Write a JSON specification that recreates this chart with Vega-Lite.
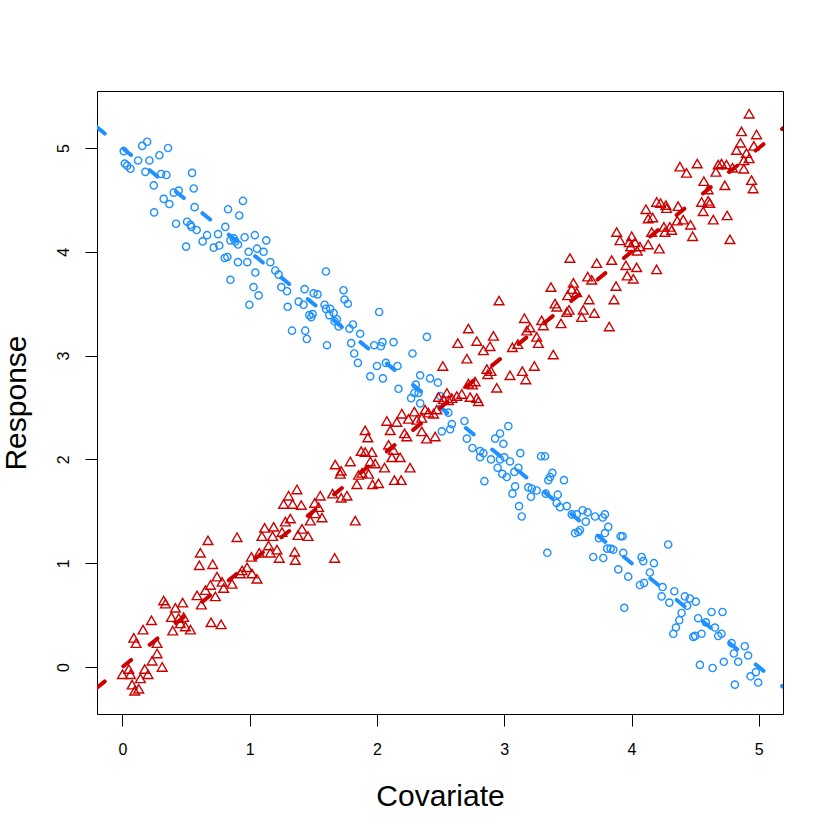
{
  "$schema": "https://vega.github.io/schema/vega-lite/v6.json",
  "width": 686,
  "height": 623,
  "autosize": "none",
  "padding": {"left": 97, "top": 91, "right": 47, "bottom": 116},
  "background": "white",
  "config": {
    "view": {"stroke": "black", "strokeWidth": 1},
    "font": "Liberation Sans"
  },
  "datasets": {
    "circles": [
      {"x":0.01,"y":4.97},{"x":0.155,"y":5.02},{"x":0.194,"y":5.06},{"x":0.123,"y":4.88},{"x":0.212,"y":4.88},
      {"x":0.29,"y":4.93},{"x":0.358,"y":5.0},{"x":0.018,"y":4.85},{"x":0.037,"y":4.83},{"x":0.063,"y":4.8},
      {"x":0.18,"y":4.77},{"x":0.304,"y":4.75},{"x":0.345,"y":4.74},{"x":0.246,"y":4.64},{"x":0.547,"y":4.76},
      {"x":0.56,"y":4.61},{"x":0.324,"y":4.51},{"x":0.403,"y":4.57},{"x":0.442,"y":4.59},{"x":0.369,"y":4.46},
      {"x":0.567,"y":4.43},{"x":0.249,"y":4.38},{"x":0.421,"y":4.27},{"x":0.508,"y":4.29},{"x":0.534,"y":4.26},
      {"x":0.542,"y":4.24},{"x":0.583,"y":4.21},{"x":0.665,"y":4.16},{"x":0.63,"y":4.1},{"x":0.751,"y":4.17},
      {"x":0.808,"y":4.24},{"x":0.83,"y":4.41},{"x":0.918,"y":4.35},{"x":0.947,"y":4.49},{"x":0.5,"y":4.05},
      {"x":0.717,"y":4.04},{"x":0.761,"y":4.06},{"x":0.803,"y":3.94},{"x":0.824,"y":3.95},{"x":0.848,"y":4.11},
      {"x":0.874,"y":4.13},{"x":0.887,"y":4.1},{"x":0.908,"y":4.07},{"x":0.96,"y":4.14},{"x":1.04,"y":4.16},
      {"x":0.991,"y":4.0},{"x":1.057,"y":4.03},{"x":0.908,"y":3.9},{"x":0.981,"y":3.9},{"x":1.044,"y":3.8},
      {"x":0.848,"y":3.73},{"x":1.03,"y":3.66},{"x":0.997,"y":3.49},{"x":1.07,"y":3.58},
      {"x":1.13,"y":4.11},{"x":1.109,"y":4.0},{"x":1.162,"y":3.9},{"x":1.201,"y":3.82},{"x":1.227,"y":3.78},
      {"x":1.248,"y":3.66},{"x":1.293,"y":3.62},{"x":1.298,"y":3.47},{"x":1.384,"y":3.52},{"x":1.423,"y":3.49},
      {"x":1.431,"y":3.64},{"x":1.502,"y":3.6},{"x":1.533,"y":3.59},{"x":1.599,"y":3.81},{"x":1.332,"y":3.24},
      {"x":1.436,"y":3.24},{"x":1.449,"y":3.16},{"x":1.468,"y":3.39},{"x":1.494,"y":3.4},{"x":1.483,"y":3.37},
      {"x":1.588,"y":3.49},{"x":1.599,"y":3.45},{"x":1.633,"y":3.45},{"x":1.625,"y":3.39},{"x":1.659,"y":3.41},
      {"x":1.685,"y":3.35},{"x":1.667,"y":3.33},{"x":1.698,"y":3.28},{"x":1.607,"y":3.1},{"x":1.737,"y":3.63},
      {"x":1.745,"y":3.54},{"x":1.771,"y":3.5},{"x":1.811,"y":3.3},{"x":1.784,"y":3.26},{"x":1.868,"y":3.21},
      {"x":1.797,"y":3.12},{"x":1.821,"y":3.02},{"x":1.85,"y":2.93},{"x":2.017,"y":3.42},{"x":1.978,"y":3.1},
      {"x":2.043,"y":3.13},{"x":2.031,"y":3.09},{"x":2.13,"y":3.13},{"x":2.0,"y":2.9},{"x":2.07,"y":2.93},
      {"x":1.947,"y":2.8},{"x":2.046,"y":2.78},{"x":2.161,"y":2.9},{"x":2.279,"y":3.02},{"x":2.169,"y":2.68},
      {"x":2.305,"y":2.72},{"x":2.268,"y":2.59},{"x":2.294,"y":2.64},{"x":2.326,"y":2.64},{"x":2.339,"y":2.81},
      {"x":2.34,"y":2.54},
      {"x":2.392,"y":3.18},{"x":2.417,"y":2.78},{"x":2.478,"y":2.74},{"x":2.496,"y":2.61},{"x":2.561,"y":2.45},
      {"x":2.588,"y":2.34},{"x":2.575,"y":2.29},{"x":2.687,"y":2.37},{"x":2.509,"y":2.27},{"x":2.706,"y":2.2},
      {"x":2.928,"y":2.2},{"x":2.967,"y":2.25},{"x":3.032,"y":2.32},
      {"x":2.993,"y":2.15},{"x":2.75,"y":2.11},{"x":2.81,"y":2.08},{"x":2.836,"y":2.06},{"x":2.81,"y":2.02},
      {"x":2.896,"y":2.0},{"x":2.967,"y":2.0},{"x":3.001,"y":2.02},{"x":3.045,"y":1.98},{"x":2.948,"y":1.92},
      {"x":2.985,"y":1.86},{"x":3.02,"y":1.83},{"x":3.079,"y":1.88},{"x":3.111,"y":1.92},{"x":3.126,"y":2.06},
      {"x":2.844,"y":1.79},{"x":3.085,"y":1.74},{"x":3.064,"y":1.67},{"x":3.116,"y":1.55},{"x":3.137,"y":1.45},
      {"x":3.21,"y":1.64},{"x":3.189,"y":1.73},{"x":3.216,"y":1.72},{"x":3.255,"y":1.7},{"x":3.289,"y":2.03},
      {"x":3.32,"y":2.03},{"x":3.326,"y":1.67},{"x":3.346,"y":1.8},{"x":3.36,"y":1.83},{"x":3.378,"y":1.87},
      {"x":3.469,"y":1.8},{"x":3.42,"y":1.66},{"x":3.412,"y":1.58},{"x":3.438,"y":1.54},{"x":3.491,"y":1.55},
      {"x":3.53,"y":1.47},{"x":3.569,"y":1.47},{"x":3.616,"y":1.51},{"x":3.655,"y":1.49},{"x":3.713,"y":1.45},
      {"x":3.64,"y":1.4},{"x":3.595,"y":1.32},{"x":3.556,"y":1.29},{"x":3.582,"y":1.3},{"x":3.744,"y":1.24},
      {"x":3.699,"y":1.06},{"x":3.338,"y":1.1},
      {"x":3.791,"y":1.47},{"x":3.773,"y":1.44},{"x":3.817,"y":1.35},{"x":3.791,"y":1.29},{"x":3.914,"y":1.26},
      {"x":3.93,"y":1.26},{"x":3.809,"y":1.14},{"x":3.836,"y":1.14},{"x":3.857,"y":1.13},{"x":3.935,"y":1.1},
      {"x":3.778,"y":1.05},{"x":3.896,"y":0.94},{"x":3.974,"y":0.87},{"x":4.079,"y":1.06},{"x":4.092,"y":1.02},
      {"x":4.176,"y":1.0},{"x":4.144,"y":0.91},{"x":4.098,"y":0.81},{"x":4.066,"y":0.79},{"x":4.288,"y":1.18},
      {"x":3.943,"y":0.57},{"x":4.244,"y":0.77},{"x":4.236,"y":0.68},{"x":4.297,"y":0.62},{"x":4.336,"y":0.73},
      {"x":4.419,"y":0.68},{"x":4.458,"y":0.66},{"x":4.505,"y":0.63},{"x":4.437,"y":0.59},{"x":4.393,"y":0.52},
      {"x":4.375,"y":0.45},{"x":4.349,"y":0.38},{"x":4.328,"y":0.32},{"x":4.523,"y":0.47},{"x":4.584,"y":0.43},
      {"x":4.629,"y":0.53},{"x":4.715,"y":0.53},{"x":4.655,"y":0.38},{"x":4.681,"y":0.3},{"x":4.707,"y":0.32},
      {"x":4.55,"y":0.32},{"x":4.485,"y":0.29},{"x":4.5,"y":0.3},{"x":4.786,"y":0.23},{"x":4.804,"y":0.13},
      {"x":4.838,"y":0.05},{"x":4.89,"y":0.2},{"x":4.916,"y":0.11},{"x":4.725,"y":0.05},{"x":4.637,"y":-0.01},
      {"x":4.537,"y":0.02},{"x":4.935,"y":-0.09},{"x":4.977,"y":-0.05},{"x":4.995,"y":-0.15},{"x":4.812,"y":-0.17}
    ],
    "triangles": [
      {"x":0.672,"y":1.22},{"x":0.9,"y":1.25},{"x":0.612,"y":1.1},{"x":0.604,"y":0.98},{"x":0.709,"y":0.99},
      {"x":0.743,"y":0.87},{"x":0.691,"y":0.79},{"x":0.783,"y":0.82},{"x":0.861,"y":0.8},{"x":0.94,"y":0.93},
      {"x":0.979,"y":0.96},{"x":1.013,"y":1.06},{"x":0.926,"y":0.9},{"x":1.018,"y":0.9},{"x":1.057,"y":0.85},
      {"x":0.586,"y":0.69},{"x":0.652,"y":0.74},{"x":0.73,"y":0.68},{"x":0.795,"y":0.76},{"x":0.62,"y":0.6},
      {"x":0.324,"y":0.64},{"x":0.338,"y":0.61},{"x":0.473,"y":0.62},{"x":0.416,"y":0.57},{"x":0.385,"y":0.48},
      {"x":0.442,"y":0.47},{"x":0.481,"y":0.48},{"x":0.455,"y":0.42},{"x":0.495,"y":0.39},{"x":0.534,"y":0.36},
      {"x":0.395,"y":0.35},{"x":0.228,"y":0.45},{"x":0.162,"y":0.36},{"x":0.089,"y":0.28},{"x":0.107,"y":0.23},
      {"x":0.272,"y":0.23},{"x":0.696,"y":0.43},{"x":0.775,"y":0.41},{"x":0.272,"y":0.13},{"x":0.233,"y":0.06},
      {"x":0.312,"y":0.0},{"x":0.175,"y":-0.02},{"x":0.201,"y":-0.07},{"x":0.05,"y":-0.02},{"x":0.0,"y":-0.07},
      {"x":0.063,"y":-0.07},{"x":0.141,"y":-0.11},{"x":0.076,"y":-0.17},{"x":0.096,"y":-0.23},{"x":0.128,"y":-0.21},
      {"x":2.077,"y":2.37},{"x":2.195,"y":2.44},{"x":2.156,"y":2.36},{"x":2.247,"y":2.39},{"x":2.294,"y":2.46},
      {"x":2.313,"y":2.38},{"x":2.104,"y":2.28},{"x":2.216,"y":2.25},{"x":2.234,"y":2.22},{"x":1.907,"y":2.28},
      {"x":1.928,"y":2.21},{"x":2.091,"y":2.14},{"x":2.13,"y":2.09},{"x":2.117,"y":2.02},{"x":2.182,"y":2.02},
      {"x":2.26,"y":1.92},{"x":2.059,"y":1.92},{"x":1.876,"y":2.08},{"x":1.907,"y":2.07},{"x":1.96,"y":2.07},
      {"x":1.947,"y":1.98},{"x":1.986,"y":1.96},{"x":1.79,"y":1.98},{"x":1.672,"y":1.95},{"x":1.719,"y":1.89},
      {"x":1.711,"y":1.86},{"x":1.855,"y":1.85},{"x":1.882,"y":1.87},{"x":1.934,"y":1.86},{"x":1.842,"y":1.76},
      {"x":1.965,"y":1.76},{"x":2.012,"y":1.77},{"x":2.137,"y":1.8},{"x":2.19,"y":1.8},{"x":1.371,"y":1.71},
      {"x":1.305,"y":1.65},{"x":1.266,"y":1.57},{"x":1.337,"y":1.57},{"x":1.405,"y":1.56},{"x":1.554,"y":1.65},
      {"x":1.651,"y":1.67},{"x":1.764,"y":1.65},{"x":1.719,"y":1.63},{"x":1.51,"y":1.58},{"x":1.541,"y":1.54},
      {"x":1.515,"y":1.48},{"x":1.568,"y":1.44},{"x":1.476,"y":1.41},{"x":1.829,"y":1.41},{"x":1.319,"y":1.43},
      {"x":1.28,"y":1.4},{"x":1.411,"y":1.33},{"x":1.379,"y":1.27},{"x":1.458,"y":1.26},{"x":1.254,"y":1.3},
      {"x":1.188,"y":1.35},{"x":1.117,"y":1.34},{"x":1.096,"y":1.26},{"x":1.18,"y":1.26},{"x":1.148,"y":1.17},
      {"x":1.214,"y":1.13},{"x":1.075,"y":1.1},{"x":1.162,"y":1.1},{"x":1.232,"y":1.05},{"x":1.353,"y":1.11},
      {"x":1.358,"y":1.03},{"x":1.667,"y":1.05},
      {"x":3.516,"y":3.94},{"x":3.726,"y":3.89},{"x":3.367,"y":3.66},{"x":3.543,"y":3.7},{"x":3.53,"y":3.64},
      {"x":3.655,"y":3.76},{"x":3.687,"y":3.73},{"x":3.498,"y":3.58},{"x":3.569,"y":3.61},{"x":3.666,"y":3.54},
      {"x":3.621,"y":3.44},{"x":3.608,"y":3.37},{"x":3.707,"y":3.41},{"x":3.399,"y":3.5},{"x":3.413,"y":3.47},
      {"x":3.491,"y":3.42},{"x":3.509,"y":3.44},{"x":3.446,"y":3.31},{"x":2.959,"y":3.53},{"x":3.158,"y":3.36},
      {"x":3.294,"y":3.34},{"x":3.307,"y":3.29},{"x":3.203,"y":3.27},{"x":3.177,"y":3.24},{"x":2.718,"y":3.26},
      {"x":2.915,"y":3.19},{"x":2.784,"y":3.14},{"x":2.635,"y":3.12},{"x":2.888,"y":3.09},{"x":2.836,"y":3.05},
      {"x":3.106,"y":3.11},{"x":3.064,"y":3.08},{"x":3.255,"y":3.18},{"x":3.268,"y":3.12},{"x":3.385,"y":3.01},
      {"x":2.706,"y":2.97},{"x":2.517,"y":2.9},{"x":3.236,"y":2.9},{"x":3.142,"y":2.85},{"x":3.169,"y":2.77},
      {"x":3.045,"y":2.81},{"x":2.941,"y":2.69},{"x":2.863,"y":2.87},{"x":2.896,"y":2.85},{"x":2.87,"y":2.82},
      {"x":2.771,"y":2.75},{"x":2.75,"y":2.72},{"x":2.718,"y":2.73},{"x":2.784,"y":2.59},{"x":2.797,"y":2.56},
      {"x":2.732,"y":2.6},{"x":2.666,"y":2.63},{"x":2.627,"y":2.61},{"x":2.588,"y":2.59},{"x":2.562,"y":2.57},
      {"x":2.549,"y":2.64},{"x":2.522,"y":2.58},{"x":2.483,"y":2.6},{"x":2.47,"y":2.48},{"x":2.444,"y":2.44},
      {"x":2.404,"y":2.45},{"x":2.378,"y":2.48},{"x":2.352,"y":2.4},{"x":2.352,"y":2.27},{"x":2.39,"y":2.2},
      {"x":2.457,"y":2.22},
      {"x":4.924,"y":5.33},{"x":4.864,"y":5.16},{"x":4.982,"y":5.13},{"x":4.856,"y":5.05},{"x":4.825,"y":4.98},
      {"x":4.961,"y":5.02},{"x":4.903,"y":4.95},{"x":4.882,"y":4.88},{"x":4.924,"y":4.9},{"x":4.882,"y":4.8},
      {"x":4.943,"y":4.69},{"x":4.955,"y":4.61},{"x":4.38,"y":4.82},{"x":4.432,"y":4.76},{"x":4.516,"y":4.85},
      {"x":4.681,"y":4.84},{"x":4.663,"y":4.77},{"x":4.707,"y":4.85},{"x":4.746,"y":4.84},{"x":4.793,"y":4.81},
      {"x":4.568,"y":4.68},{"x":4.602,"y":4.6},{"x":4.733,"y":4.64},{"x":4.55,"y":4.48},{"x":4.602,"y":4.49},
      {"x":4.615,"y":4.47},{"x":4.563,"y":4.39},{"x":4.642,"y":4.31},{"x":4.751,"y":4.35},{"x":4.773,"y":4.12},
      {"x":4.197,"y":4.48},{"x":4.228,"y":4.47},{"x":4.27,"y":4.45},{"x":4.275,"y":4.42},{"x":4.366,"y":4.44},
      {"x":4.113,"y":4.41},{"x":4.166,"y":4.33},{"x":4.131,"y":4.32},{"x":4.406,"y":4.31},{"x":4.464,"y":4.26},
      {"x":4.48,"y":4.15},{"x":4.359,"y":4.3},{"x":4.301,"y":4.24},{"x":4.315,"y":4.21},{"x":4.262,"y":4.19},
      {"x":4.254,"y":4.24},{"x":4.158,"y":4.19},{"x":3.883,"y":4.19},{"x":3.909,"y":4.11},{"x":4.001,"y":4.15},
      {"x":3.982,"y":4.09},{"x":4.027,"y":4.09},{"x":3.993,"y":4.05},{"x":4.045,"y":4.01},{"x":4.131,"y":4.07},
      {"x":4.066,"y":4.05},{"x":4.218,"y":4.03},{"x":3.844,"y":3.92},{"x":3.956,"y":3.87},{"x":4.04,"y":3.85},
      {"x":3.966,"y":3.77},{"x":4.014,"y":3.74},{"x":4.197,"y":3.83},{"x":3.878,"y":3.67},{"x":3.862,"y":3.54},
      {"x":3.825,"y":3.28}
    ],
    "blueLine": [{"x":-0.2,"y":5.2},{"x":5.2,"y":-0.2}],
    "redLine": [{"x":-0.2,"y":-0.2},{"x":5.2,"y":5.2}]
  },
  "encoding": {
    "x": {
      "field": "x", "type": "quantitative",
      "scale": {"domain": [-0.2, 5.19], "nice": false, "zero": false},
      "axis": {
        "values": [0, 1, 2, 3, 4, 5], "format": "d", "title": "Covariate",
        "grid": false, "domain": false,
        "tickSize": 12, "tickColor": "black", "tickWidth": 1,
        "labelFontSize": 16, "labelColor": "black", "labelFont": "Liberation Sans",
        "labelBaseline": "alphabetic", "labelPadding": 28, "labelFlush": false, "labelOverlap": false,
        "titleFont": "Liberation Sans", "titleFontSize": 30, "titleFontWeight": "normal", "titleColor": "black",
        "titleX": 343, "titleY": 91, "titleBaseline": "alphabetic", "titleAlign": "center"
      }
    },
    "y": {
      "field": "y", "type": "quantitative",
      "scale": {"domain": [-0.453, 5.549], "nice": false, "zero": false},
      "axis": {
        "values": [0, 1, 2, 3, 4, 5], "format": "d", "title": "Response",
        "grid": false, "domain": false,
        "tickSize": 12, "tickColor": "black", "tickWidth": 1,
        "labelFontSize": 16, "labelColor": "black", "labelFont": "Liberation Sans",
        "labelAngle": 270, "labelAlign": "center", "labelBaseline": "alphabetic", "labelPadding": 17,
        "labelFlush": false, "labelOverlap": false,
        "titleFont": "Liberation Sans", "titleFontSize": 30, "titleFontWeight": "normal", "titleColor": "black",
        "titleAngle": 270, "titleX": -72, "titleY": 311.5, "titleBaseline": "alphabetic", "titleAlign": "center"
      }
    }
  },
  "layer": [
    {
      "data": {"name": "circles"},
      "mark": {"type": "point", "shape": "circle", "filled": false, "size": 52, "strokeWidth": 1.4, "color": "#1E90FF", "opacity": 1}
    },
    {
      "data": {"name": "triangles"},
      "mark": {"type": "point", "shape": "triangle-up", "filled": false, "size": 95, "strokeWidth": 1.4, "color": "#CD0000", "opacity": 1}
    },
    {
      "data": {"name": "blueLine"},
      "mark": {"type": "line", "color": "#1E90FF", "strokeWidth": 4, "strokeDash": [10, 24], "strokeCap": "round", "clip": true},
      "encoding": {}
    },
    {
      "data": {"name": "redLine"},
      "mark": {"type": "line", "color": "#CD0000", "strokeWidth": 4, "strokeDash": [10, 24], "strokeCap": "round", "clip": true},
      "encoding": {}
    }
  ]
}
